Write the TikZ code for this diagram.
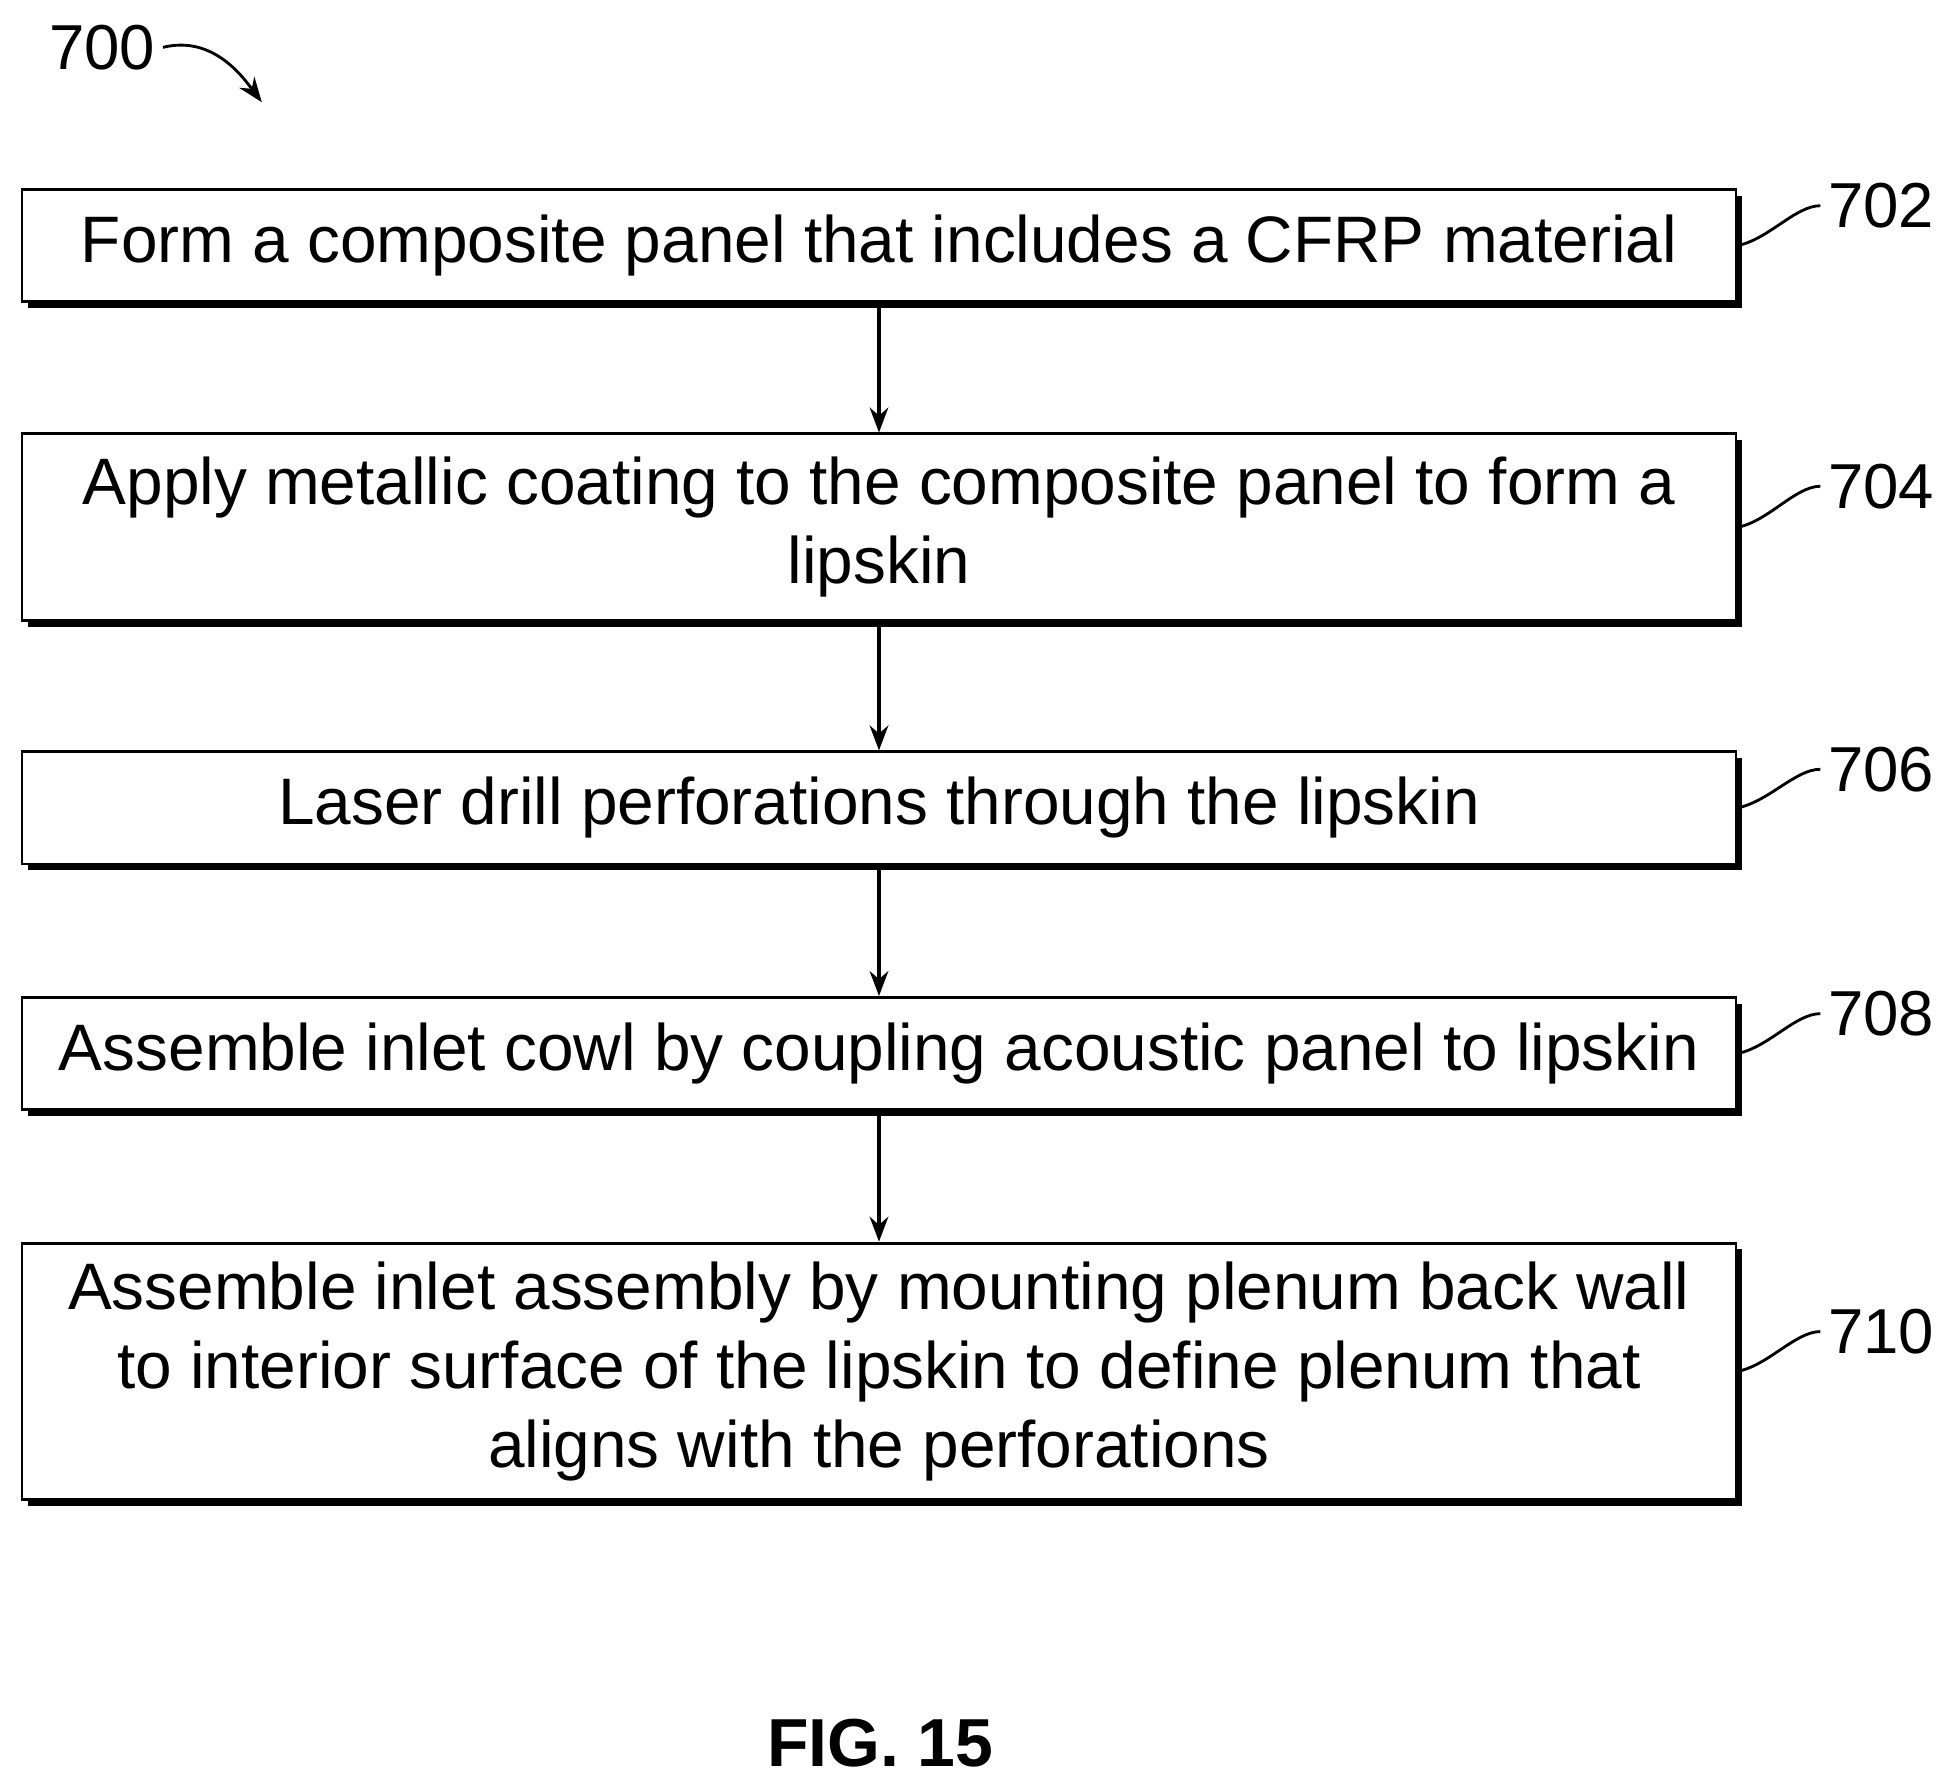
\documentclass[tikz,border=0pt]{standalone}
\usepackage{fontspec}
\setmainfont{Liberation Sans}
\usetikzlibrary{shadows,arrows.meta}

\tikzset{
  stepbox/.style={draw, line width=1.3pt, fill=white, minimum width=27.5cm, align=center,
    font=\fontsize{30}{36}\selectfont,
    drop shadow={shadow xshift=0.1cm, shadow yshift=-0.1cm, fill=black, opacity=1}},
  refnum/.style={font=\fontsize{29}{34}\selectfont, anchor=west},
  flow/.style={-{Stealth[length=0.4cm,width=0.3cm]}, line width=1.4pt}
}

\begin{document}
\begin{tikzpicture}[x=0.02cm, y=-0.02cm]
        \useasboundingbox (0,0) rectangle (1560,1425);
        \node[stepbox, minimum height=1.8cm] (s702) at (705,197) {Form a composite panel that includes a CFRP material};
        \node[stepbox, minimum height=3.0cm] (s704) at (705,423) {Apply metallic coating to the composite panel to form a\\ lipskin};
        \node[stepbox, minimum height=1.8cm] (s706) at (705,648) {Laser drill perforations through the lipskin};
        \node[stepbox, minimum height=1.8cm] (s708) at (705,845) {Assemble inlet cowl by coupling acoustic panel to lipskin};
        \node[stepbox, minimum height=4.12cm] (s710) at (705,1100) {Assemble inlet assembly by mounting plenum back wall\\ to interior surface of the lipskin to define plenum that\\ aligns with the perforations};
        \draw[flow] (s702) -- (s704);
        \draw[flow] (s704) -- (s706);
        \draw[flow] (s706) -- (s708);
        \draw[flow] (s708) -- (s710);
        % reference numerals
        \node[refnum] (r702) at (1460,165) {702};
        \node[refnum] (r704) at (1460,390) {704};
        \node[refnum] (r706) at (1460,617) {706};
        \node[refnum] (r708) at (1460,813) {708};
        \node[refnum] (r710) at (1460,1068) {710};
        \foreach \n in {702,704,706,708,710}
          \draw[line width=1.3pt] (s\n.east) .. controls +(25,-5) and +(-20,0) .. (r\n.west);
        \node[refnum, anchor=center] (r700) at (82,38) {700};
        \draw[-{Stealth[length=0.4cm,width=0.3cm]}, line width=1.3pt] (r700.east) .. controls +(40,-10) and +(-15,-20) .. (210,82);
        \node[font=\bfseries\fontsize{31}{36}\selectfont] (fig) at (706,1398) {FIG. 15};
      \end{tikzpicture}
\end{document}
